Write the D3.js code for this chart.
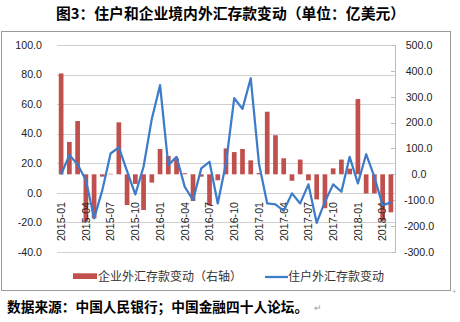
<!DOCTYPE html>
<html><head><meta charset="utf-8">
<script src="https://cdn.jsdelivr.net/npm/d3@7"></script>
<style>
html,body{margin:0;padding:0;background:#fff;}
svg{display:block;}
</style></head>
<body>
<svg id="c" width="460" height="322"></svg>
<script>
const months = ["2015-01","2015-02","2015-03","2015-04","2015-05","2015-06","2015-07","2015-08","2015-09","2015-10","2015-11","2015-12",
"2016-01","2016-02","2016-03","2016-04","2016-05","2016-06","2016-07","2016-08","2016-09","2016-10","2016-11","2016-12",
"2017-01","2017-02","2017-03","2017-04","2017-05","2017-06","2017-07","2017-08","2017-09","2017-10","2017-11","2017-12",
"2018-01","2018-02","2018-03","2018-04","2018-05"];
const tickMonths = ["2015-01","2015-04","2015-07","2015-10","2016-01","2016-04","2016-07","2016-10","2017-01","2017-04","2017-07","2017-10","2018-01","2018-04"];
// 企业外汇存款变动（右轴）
const enterprise = [390,125,206,-183,-170,-9,2,201,-119,-37,-138,-32,
98,71,62,4,-103,-9,-120,-23,100,86,98,54,
5,242,151,62,-25,57,-23,-97,-131,23,57,22,
291,-74,-74,-180,-147];
// 住户外汇存款变动（左轴）
const household = [12.4,25.5,19.2,8.6,-17.3,1.8,26.6,30.7,14.7,-1.1,17.6,50,
72.8,18.7,24.3,4,-4.9,16.5,21,-7.2,20,64,56.8,77.5,
19.7,-7.2,-7.9,-12.2,-0.4,-7.2,5.7,-20.3,-6,5.7,0.7,24.3,
6.3,26.1,10.8,-8.5,-6.5];
const leftTicks = [-40,-20,0,20,40,60,80,100];
const rightTicks = [-300,-200,-100,0,100,200,300,400,500];
const title = "图3：住户和企业境内外汇存款变动（单位：亿美元）";
const legendLabels = ["企业外汇存款变动（右轴）","住户外汇存款变动"];
const source = "数据来源：中国人民银行；中国金融四十人论坛。";

const svg = d3.select("#c");
const X0 = 57, X1 = 395, YT = 45, YB = 251.9;
const numFont = "'Liberation Sans', Arial, sans-serif";
const cjk = "'Noto Sans CJK SC', sans-serif";

const x = d3.scaleBand().domain(months).range([X0, X1]).paddingInner(0.43).paddingOuter(0.215);
const yL = d3.scaleLinear().domain([-40, 100]).range([YB, YT]);
const yR = d3.scaleLinear().domain([-300, 500]).range([YB, YT]);

// border
svg.append("rect").attr("x",1.5).attr("y",31.5).attr("width",449).attr("height",259)
  .attr("fill","none").attr("stroke","#9a9a9a").attr("stroke-width",1);

// title
svg.append("text").attr("x",56).attr("y",19).attr("font-family",cjk).attr("font-weight","bold")
  .attr("font-size",14.8).attr("fill","#000").text(title);

// gridlines
svg.append("g").selectAll("line").data(leftTicks).join("line")
  .attr("x1",X0).attr("x2",X1).attr("y1",d=>Math.round(yL(d))+0.5).attr("y2",d=>Math.round(yL(d))+0.5)
  .attr("stroke","#d0d0d0").attr("stroke-width",1);

// left labels
svg.append("g").selectAll("text").data(leftTicks).join("text")
  .attr("x",42).attr("y",d=>yL(d)+3.8).attr("text-anchor","end")
  .attr("font-family",numFont).attr("font-size",10.67).attr("fill","#222")
  .text(d=>d.toFixed(1));

// right axis
const gR = svg.append("g");
gR.append("line").attr("x1",395.5).attr("x2",395.5).attr("y1",YT).attr("y2",YB)
  .attr("stroke","#bdbdbd");
gR.selectAll("line.t").data(rightTicks).join("line").attr("class","t")
  .attr("x1",391).attr("x2",396).attr("y1",d=>Math.round(yR(d))+0.5).attr("y2",d=>Math.round(yR(d))+0.5)
  .attr("stroke","#bdbdbd");
gR.selectAll("text").data(rightTicks).join("text")
  .attr("x",419).attr("y",d=>yR(d)+3.8).attr("text-anchor","middle")
  .attr("font-family",numFont).attr("font-size",10.67).attr("fill","#222")
  .text(d=>d.toFixed(1));

// bars
svg.append("g").selectAll("rect").data(months).join("rect")
  .attr("x",(d)=>x(d)).attr("width",x.bandwidth())
  .attr("y",(d,i)=>Math.min(yR(enterprise[i]),yR(0)))
  .attr("height",(d,i)=>Math.abs(yR(enterprise[i])-yR(0)))
  .attr("fill","#c0504d");

// x labels
svg.append("g").selectAll("text").data(tickMonths).join("text")
  .attr("transform",d=>`translate(${x(d)+x.bandwidth()/2+3.8},202) rotate(-90)`)
  .attr("text-anchor","end").attr("font-family",numFont).attr("font-size",10.67).attr("fill","#222")
  .text(d=>d);

// line
const line = d3.line().x((d,i)=>x(months[i])+x.bandwidth()/2).y(d=>yL(d));
svg.append("path").datum(household).attr("d",line).attr("fill","none")
  .attr("stroke","#3d7cc9").attr("stroke-width",2.25).attr("stroke-linejoin","round");

// legend
svg.append("rect").attr("x",73).attr("y",273.3).attr("width",24).attr("height",5.7).attr("fill","#c0504d");
svg.append("text").attr("x",98).attr("y",280.5).attr("font-family",cjk).attr("font-size",12)
  .attr("fill","#333").text(legendLabels[0]);
svg.append("line").attr("x1",265).attr("x2",288).attr("y1",277).attr("y2",277)
  .attr("stroke","#3d7cc9").attr("stroke-width",2.25);
svg.append("text").attr("x",288).attr("y",280.5).attr("font-family",cjk).attr("font-size",12)
  .attr("fill","#333").text(legendLabels[1]);

// source
svg.append("text").attr("x",7).attr("y",311.5).attr("font-family",cjk).attr("font-weight","bold")
  .attr("font-size",13.7).attr("fill","#000").text(source);
svg.append("text").attr("x",314).attr("y",311).attr("font-family",numFont).attr("font-size",9)
  .attr("fill","#999").text("↵");
svg.append("text").attr("x",452).attr("y",294).attr("font-family",numFont).attr("font-size",8)
  .attr("fill","#aaa").text("+");
</script>
</body></html>
